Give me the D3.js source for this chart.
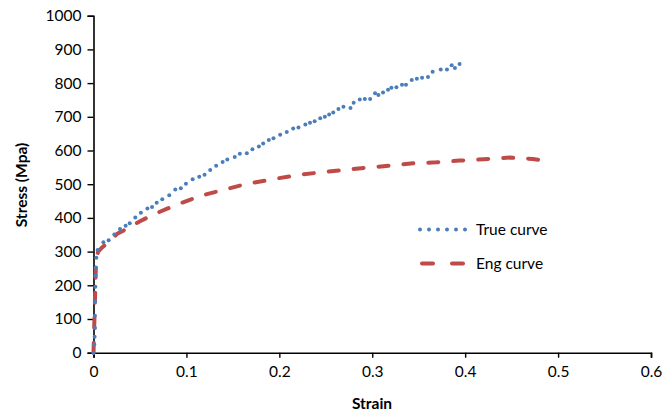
<!DOCTYPE html>
<html><head><meta charset="utf-8">
<script src="https://cdn.jsdelivr.net/npm/d3@7"></script>
<style>body{margin:0;background:#fff}svg{display:block}text{font-family:Lato,"Open Sans",sans-serif}</style>
</head><body>
<script>
const xTicks = [0, 0.1, 0.2, 0.3, 0.4, 0.5, 0.6];
const yTicks = [0, 100, 200, 300, 400, 500, 600, 700, 800, 900, 1000];
const seriesNames = ["True curve", "Eng curve"];
const trueStrain = [0,0.0008,0.0012,0.0016,0.0016,0.0018,0.002,0.0022,0.0025,0.003,0.0045,0.0106,0.0163,0.0224,0.0285,0.0346,0.039,0.045,0.051,0.058,0.063,0.068,0.074,0.0815,0.088,0.094,0.0995,0.1067,0.1138,0.1195,0.1256,0.132,0.139,0.144,0.152,0.1575,0.165,0.171,0.178,0.1826,0.1887,0.1937,0.2009,0.208,0.2149,0.2206,0.228,0.233,0.238,0.244,0.249,0.2536,0.258,0.2636,0.269,0.2766,0.28,0.2866,0.292,0.2977,0.303,0.3066,0.3116,0.317,0.3206,0.326,0.332,0.3363,0.3425,0.348,0.3536,0.36,0.365,0.3737,0.3804,0.3855,0.389,0.394];
const trueStress = [0,24,47,73,110,151,196,228,253,282,305,328,334,351,367,377,384,401,415,428,432,445,455,467,484,488,501,515,522,528,542,555,566,573,581,590,592,604,612,621,631,636,647,655,665,668,677,682,687,696,700,707,713,723,730,726,742,751,753,753,770,765,772,780,786,788,795,795,809,813,816,818,834,840,840,853,845,857];
const engStrain = [0,0.0005,0.001,0.0015,0.002,0.0025,0.003,0.005,0.009,0.015,0.0196,0.025,0.032,0.0428,0.05,0.066,0.08,0.0912,0.1145,0.1396,0.1647,0.1916,0.2167,0.2435,0.2686,0.2937,0.3188,0.344,0.369,0.394,0.42,0.4478,0.4726,0.48];
const engStress = [0,50,100,150,200,250,280,300,312,325,336,352,362,379,390,412,428,441,465,483,501,514,526,535,542,549,555,562,565,570,574,579,575,572];

const W = 662, H = 414;
const blue = "#4A7EBB", red = "#BE4B48";
const svg = d3.select("body").append("svg").attr("width", W).attr("height", H);
const x = d3.scaleLinear().domain([0, 0.6]).range([93.5, 651]);
const y = d3.scaleLinear().domain([0, 1000]).range([352.7, 15.7]);

const xAxis = svg.append("g").attr("transform", `translate(0,${y(0)})`)
  .call(d3.axisBottom(x).tickValues(xTicks).tickFormat(d => d === 0 ? "0" : d3.format(".1f")(d)).tickSizeOuter(0).tickSize(5).tickPadding(8));
const yAxis = svg.append("g").attr("transform", `translate(${x(0)},0)`)
  .call(d3.axisLeft(y).tickValues(yTicks).tickFormat(d3.format("d")).tickSizeOuter(0).tickSize(6).tickPadding(6));
[xAxis, yAxis].forEach(g => {
  g.select(".domain").attr("stroke", "#000").attr("stroke-width", 1.6);
  g.selectAll(".tick line").attr("stroke", "#000").attr("stroke-width", 1.4);
  g.selectAll(".tick text").attr("fill", "#000").style("font-size", "15.5px").style("font-family", "Lato");
});

// Eng curve (dashed)
const line = d3.line().x(d => x(d[0])).y(d => y(d[1]));
const engData = engStrain.map((s, i) => [s, engStress[i]]);
svg.append("path").datum(engData).attr("d", line).attr("fill", "none")
  .attr("stroke", red).attr("stroke-width", 4).attr("stroke-linecap", "round").attr("stroke-linejoin", "round")
  .attr("stroke-dasharray", "10,15");

// True curve (dots)
const trueData = trueStrain.map((s, i) => [s, trueStress[i]]);
svg.append("g").selectAll("circle").data(trueData).join("circle")
  .attr("cx", d => x(d[0])).attr("cy", d => y(d[1])).attr("r", 2).attr("fill", blue);

// Legend
const leg = svg.append("g");
const legY = [229.5, 263.5];
leg.append("line").attr("x1", 420).attr("x2", 466).attr("y1", legY[0]).attr("y2", legY[0])
  .attr("stroke", blue).attr("stroke-width", 4).attr("stroke-linecap", "round").attr("stroke-dasharray", "0,9");
leg.append("line").attr("x1", 422).attr("x2", 464).attr("y1", legY[1]).attr("y2", legY[1])
  .attr("stroke", red).attr("stroke-width", 4).attr("stroke-linecap", "round").attr("stroke-dasharray", "11,19");
seriesNames.forEach((n, i) => {
  leg.append("text").attr("x", 476).attr("y", legY[i]).attr("dy", "0.35em")
    .style("font-size", "15.5px").attr("fill", "#000").text(n);
});

// Axis titles
svg.append("text").attr("x", 372).attr("y", 409).attr("text-anchor", "middle")
  .style("font-size", "15.5px").style("font-weight", "bold").text("Strain");
svg.append("text").attr("transform", "translate(27,185) rotate(-90)").attr("text-anchor", "middle")
  .style("font-size", "15.5px").style("font-weight", "bold").text("Stress (Mpa)");
</script>
</body></html>
